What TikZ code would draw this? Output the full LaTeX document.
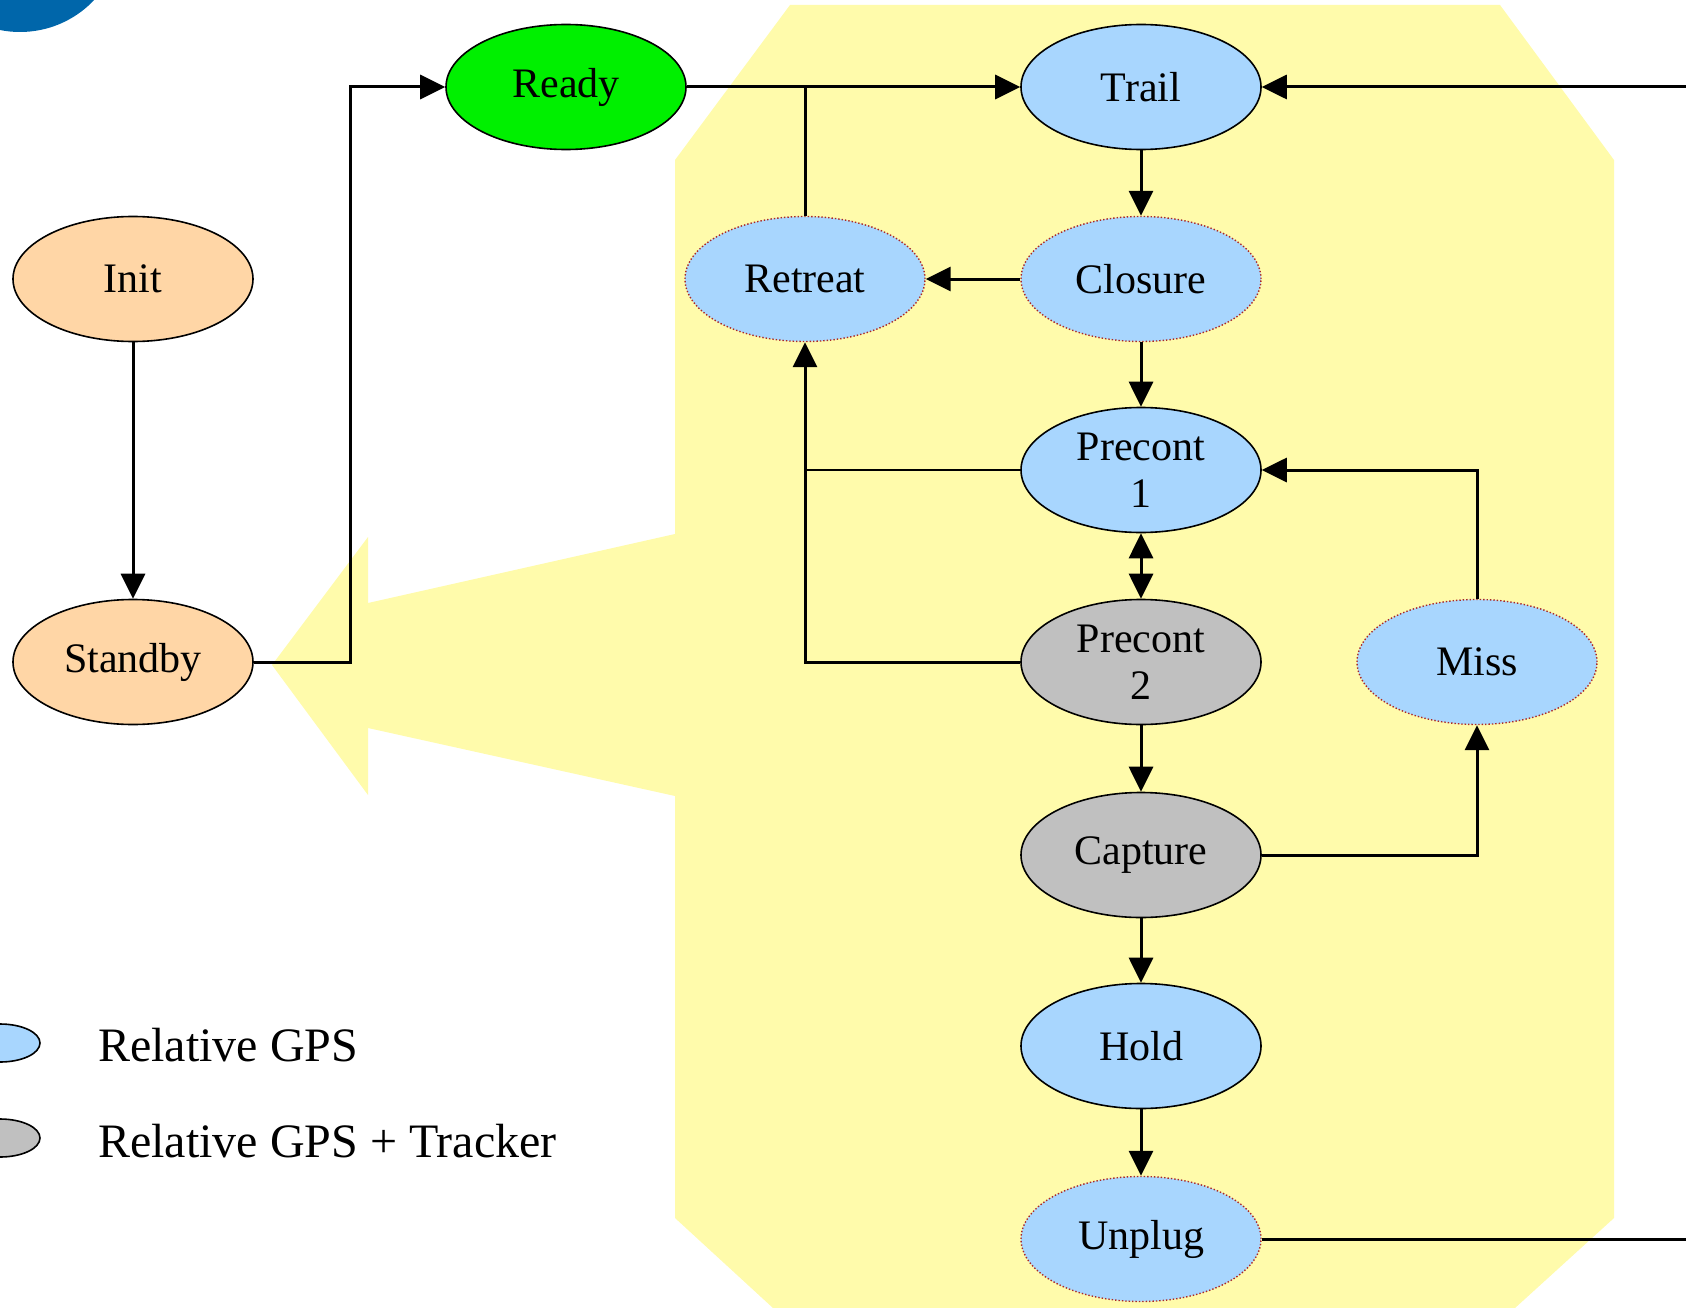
\documentclass[tikz,border=0pt]{standalone}
\usepackage{fontspec}
\setmainfont{Liberation Serif}
\usetikzlibrary{shapes.geometric,arrows.meta}

\definecolor{zoneyellow}{RGB}{255,251,171}
\definecolor{gpsblue}{RGB}{168,214,254}
\definecolor{trackgray}{RGB}{192,192,192}
\definecolor{startpeach}{RGB}{255,214,166}
\definecolor{readygreen}{RGB}{0,240,0}
\definecolor{edgered}{RGB}{170,40,40}
\definecolor{logoblue}{RGB}{0,102,170}

\tikzset{
  state/.style={ellipse, draw=black, line width=1.6pt, minimum width=240pt,
    minimum height=125pt, inner sep=0pt, align=center,
    font=\fontsize{42}{47}\selectfont},
  soft/.style={state, draw=edgered, line width=1.4pt, dash pattern=on 1.4pt off 2pt},
  wire/.style={line width=3pt, line join=miter},
  flow/.style={wire, -{Triangle[length=25pt,width=24pt]}},
  twoway/.style={wire, {Triangle[length=25pt,width=24pt]}-{Triangle[length=25pt,width=24pt]}},
  thinwire/.style={line width=1.6pt},
  legendtext/.style={anchor=west, inner sep=0pt, font=\fontsize{48}{54}\selectfont},
}

\begin{document}
\begin{tikzpicture}[x=1pt, y=-1pt]
\useasboundingbox (0,0) rectangle (1686,1308);
\clip (0,0) rectangle (1686,1308);

% corner logo fragment
\fill[logoblue] (20,-70) circle (102);

% highlighted zone with its pointer towards Standby
\fill[zoneyellow] (790,5) -- (1500,5) -- (1614,160) -- (1614,1218) -- (1515,1308)
  -- (773,1308) -- (675,1218) -- (675,796) -- (368,728) -- (368,795)
  -- (272,665) -- (368,537) -- (368,603) -- (675,534) -- (675,160) -- cycle;

% states
\node[state, fill=startpeach] (init)    at (133,279)  {Init};
\node[state, fill=startpeach] (standby) at (133,662)  {Standby};
\node[state, fill=readygreen] (ready)   at (566,87)   {Ready};
\node[state, fill=gpsblue]    (trail)   at (1141,87)  {Trail};
\node[soft,  fill=gpsblue]    (retreat) at (805,279)  {Retreat};
\node[soft,  fill=gpsblue]    (closure) at (1141,279) {Closure};
\node[state, fill=gpsblue]    (pre1)    at (1141,470) {Precont\\1};
\node[state, fill=trackgray]  (pre2)    at (1141,662) {Precont\\2};
\node[soft,  fill=gpsblue]    (miss)    at (1477,662) {Miss};
\node[state, fill=trackgray]  (capture) at (1141,855) {Capture};
\node[state, fill=gpsblue]    (hold)    at (1141,1046) {Hold};
\node[soft,  fill=gpsblue]    (unplug)  at (1141,1239) {Unplug};

% off-page ends and routing column
\coordinate (outT) at (1692,87);
\coordinate (outB) at (1692,1239);
\coordinate (jx)   at (350,0);

% transitions
\draw[flow] (init) -- (standby);
\draw[flow] (standby.east) -- (standby.east -| jx) |- (ready.west);
\draw[flow] (ready.east) -- (trail.west);
\draw[wire] (retreat.north) -- (retreat.north |- ready.east);
\draw[flow] (outT) -- (trail.east);
\draw[flow] (trail) -- (closure);
\draw[flow] (closure.west) -- (retreat.east);
\draw[flow] (closure) -- (pre1);
\draw[twoway] (pre1) -- (pre2);
\draw[thinwire] (pre1.west) -- (pre1.west -| retreat.south);
\draw[flow] (pre2.west) -| (retreat.south);
\draw[flow] (pre2) -- (capture);
\draw[flow] (capture.east) -| (miss.south);
\draw[flow] (miss.north) |- (pre1.east);
\draw[flow] (capture) -- (hold);
\draw[flow] (hold) -- (unplug);
\draw[wire] (unplug.east) -- (outB);

% legend
\draw[line width=1.6pt, fill=gpsblue]   (0,1043) ellipse (40 and 19);
\draw[line width=1.6pt, fill=trackgray] (0,1138) ellipse (40 and 19);
\node[legendtext] (lg1) at (98,1045) {Relative GPS};
\node[legendtext] (lg2) at (98,1141) {Relative GPS + Tracker};
\end{tikzpicture}
\end{document}
